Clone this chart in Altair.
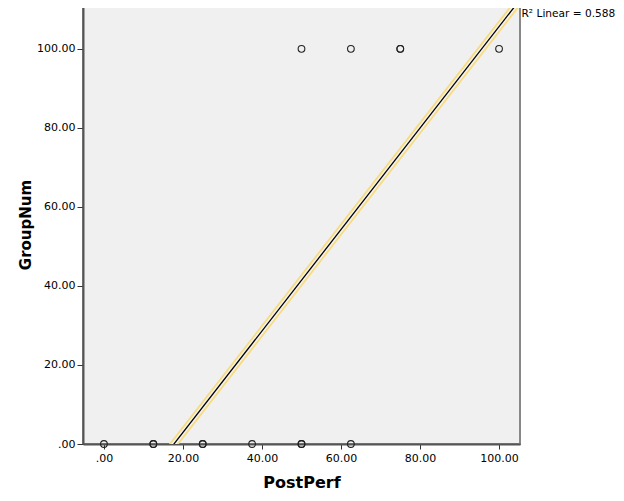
import altair as alt
import pandas as pd

# observed points (duplicates drawn twice)
post_perf = [0, 12.5, 12.5, 25, 25, 37.5, 50, 50, 62.5, 50, 62.5, 75, 75, 100]
group_num = [0, 0, 0, 0, 0, 0, 0, 0, 0, 100, 100, 100, 100, 100]
r2_label = "R\u00b2 Linear = 0.588"

df = pd.DataFrame({"PostPerf": post_perf, "GroupNum": group_num})

x_dom = [-5.3, 105.3]
y_dom = [0, 111.1]
ticks = [0, 20, 40, 60, 80, 100]
lab = "datum.value == 0 ? '.00' : format(datum.value, '.2f')"

xs = alt.Scale(domain=x_dom, nice=False, zero=False)
ys = alt.Scale(domain=y_dom, nice=False, zero=False)

x_enc = alt.X("PostPerf:Q", scale=xs, axis=alt.Axis(
    values=ticks, labelExpr=lab, title="PostPerf", grid=False,
    domainColor="#555555", domainWidth=2, tickColor="#333333", tickSize=5,
    labelFont="DejaVu Sans", labelFontSize=11, labelColor="#000000", labelPadding=3,
    titleFont="DejaVu Sans", titleFontSize=16, titleFontWeight="bold",
    titleColor="#000000", titlePadding=11))
y_enc = alt.Y("GroupNum:Q", scale=ys, axis=alt.Axis(
    values=ticks, labelExpr=lab, title="GroupNum", grid=False,
    domainColor="#555555", domainWidth=2, tickColor="#333333", tickSize=6,
    labelFont="DejaVu Sans", labelFontSize=11, labelColor="#000000", labelPadding=2,
    titleFont="DejaVu Sans", titleFontSize=15, titleFontWeight="bold",
    titleColor="#000000", titleX=-50))

base = alt.Chart(df)

pts = base.mark_point(shape="circle", filled=False, size=45, color="#222222",
                      strokeWidth=1.1, opacity=1).encode(x=x_enc, y=y_enc)

reg = base.transform_regression("PostPerf", "GroupNum", extent=[-5.3, 105.3])
halo = reg.mark_line(color="#f8db7e", strokeWidth=8, clip=True, strokeCap="round").encode(
    x=alt.X("PostPerf:Q", scale=xs), y=alt.Y("GroupNum:Q", scale=ys))
inner = reg.mark_line(color="#f4f2ea", strokeWidth=4.5, clip=True).encode(
    x=alt.X("PostPerf:Q", scale=xs), y=alt.Y("GroupNum:Q", scale=ys))
line = reg.mark_line(color="#000000", strokeWidth=1.3, clip=True).encode(
    x=alt.X("PostPerf:Q", scale=xs), y=alt.Y("GroupNum:Q", scale=ys))

txt = alt.Chart(pd.DataFrame({"t": [r2_label]})).mark_text(
    align="left", baseline="middle", font="DejaVu Sans", fontSize=10.6, color="#000000"
).encode(text="t:N", x=alt.value(438.5), y=alt.value(9))

chart = alt.layer(halo, inner, line, pts, txt).properties(
    width=437, height=439,
    autosize=alt.AutoSizeParams(type="none"),
    padding={"left": 75, "top": -3, "right": 96, "bottom": 49},
    background="#ffffff",
).configure_view(fill="#f0f0f0", stroke="#888888", strokeWidth=2)

chart.save("out.html", embed_options={"renderer": "svg", "actions": False})
